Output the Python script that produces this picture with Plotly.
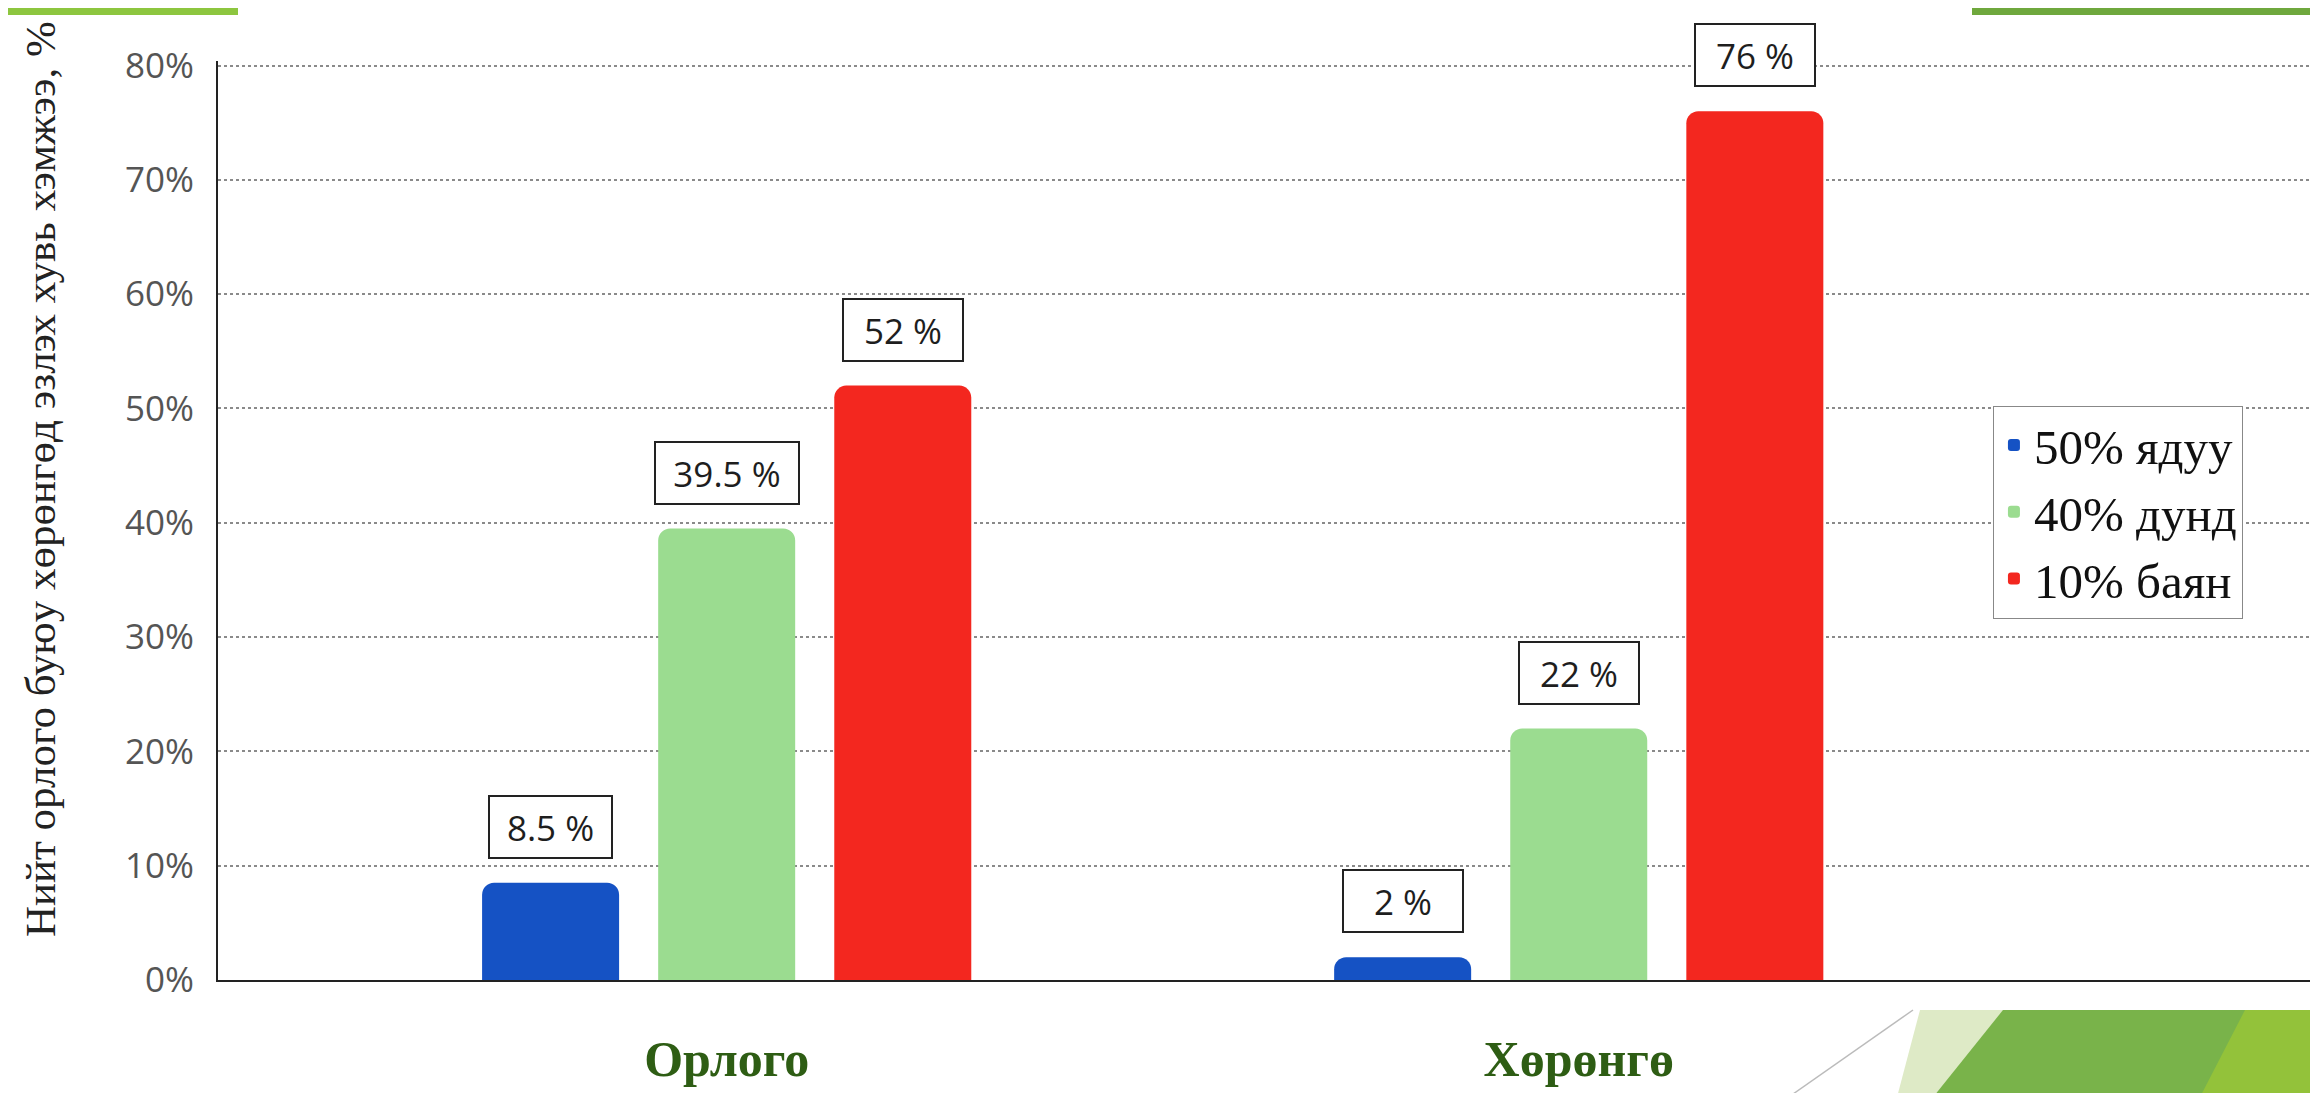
import plotly.graph_objects as go

categories = ["Орлого", "Хөрөнгө"]
series_names = ["50% ядуу", "40% дунд", "10% баян"]
poor_vals = [8.5, 2]
middle_vals = [39.5, 22]
rich_vals = [52, 76]
y_ticks = [0, 10, 20, 30, 40, 50, 60, 70, 80]
y_tick_labels = ["0%", "10%", "20%", "30%", "40%", "50%", "60%", "70%", "80%"]
y_title = "Нийт орлого буюу хөрөнгөд эзлэх хувь хэмжээ, %"

colors = ["#1552C4", "#9BDC90", "#F3271F"]
series_vals = [poor_vals, middle_vals, rich_vals]

W, H = 2318, 1093
ML, MR, MT, MB = 210, 0, 53, 121
PW = W - ML - MR
PH = H - MT - MB
bargap = 0.38
slot = (1 - bargap) / 3

fig = go.Figure()
for name, vals, col in zip(series_names, series_vals, colors):
    fig.add_trace(go.Bar(x=categories, y=vals, name=name,
                         marker=dict(color=col, cornerradius=12, line=dict(width=0))))

annotations = []
for k, vals in enumerate(series_vals):
    for i, v in enumerate(vals):
        txt = f"{v} %"
        annotations.append(dict(
            x=i + (k - 1) * slot, y=v, xref="x", yref="y",
            text=txt, showarrow=False, yanchor="bottom", yshift=24,
            font=dict(family="Open Sans", size=35, color="#1e1e1e"),
            bordercolor="#222", borderwidth=2, borderpad=8,
            bgcolor="white", width=max(102, 21 * len(txt)), height=44))

def px2paper(px, py):
    return (px - ML) / PW, (H - MB - py) / PH

annotations.append(dict(
    x=px2paper(32, 0)[0], y=px2paper(0, 471)[1], xref="paper", yref="paper",
    xanchor="center", yanchor="middle",
    text=y_title, textangle=-90, showarrow=False,
    font=dict(family="Liberation Serif", size=43, color="#222")))

def poly(points, color):
    pts = [px2paper(x, y) for x, y in points]
    path = "M " + " L ".join(f"{x},{y}" for x, y in pts) + " Z"
    return dict(type="path", xref="paper", yref="paper", path=path,
                fillcolor=color, line=dict(width=0), layer="above")

shapes = [
    poly([(1912, 1002), (2318, 1002), (2318, 1093), (1888, 1093)], "#DEEAC6"),
    poly([(1995, 1002), (2318, 1002), (2318, 1093), (1922, 1093)], "#79B34A"),
    poly([(2237, 1002), (2318, 1002), (2318, 1093), (2190, 1093)], "#93C23A"),
    poly([(0, 0), (230, 0), (230, 7), (0, 7)], "#8DC63F"),
    poly([(1964, 0), (2318, 0), (2318, 7), (1964, 7)], "#6FA83D"),
]
x0, y0 = px2paper(1905, 1002)
x1, y1 = px2paper(1775, 1093)
shapes.append(dict(type="line", xref="paper", yref="paper", x0=x0, y0=y0, x1=x1, y1=y1,
                   line=dict(color="#BBBBBB", width=1.5)))

fig.update_layout(
    width=W, height=H,
    margin=dict(l=ML, r=MR, t=MT, b=MB),
    paper_bgcolor="white", plot_bgcolor="white",
    barmode="group", bargap=bargap, bargroupgap=0.222,
    annotations=annotations, shapes=shapes,
    legend=dict(x=0.842, y=0.625, xanchor="left", yanchor="top",
                font=dict(family="Liberation Serif", size=49, color="#111"),
                bordercolor="#888", borderwidth=1, bgcolor="white",
                tracegroupgap=0, itemwidth=30),
    xaxis=dict(range=[-0.597, 1.877], showline=True, linecolor="#222", linewidth=2,
               ticks="", ticklabelstandoff=34,
               tickfont=dict(family="Liberation Serif", size=50, color="#2E5D14",
                             weight="bold")),
    yaxis=dict(range=[0, 80.4], tickvals=y_ticks, ticktext=y_tick_labels, showgrid=True,
               gridcolor="#8a8a8a", griddash="dot", gridwidth=1.5,
               showline=True, linecolor="#222", linewidth=2, zeroline=False,
               ticks="", ticklabelstandoff=15,
               tickfont=dict(family="Open Sans", size=35, color="#555")),
    showlegend=True,
)

fig.write_html("out.html")
